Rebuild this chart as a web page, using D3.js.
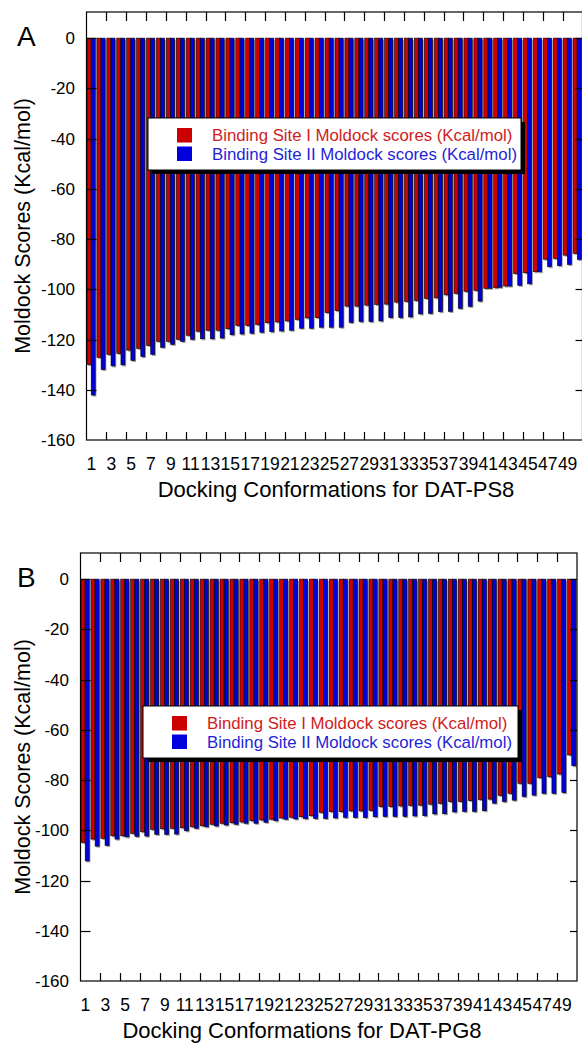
<!DOCTYPE html>
<html>
<head>
<meta charset="utf-8">
<script src="https://cdn.jsdelivr.net/npm/d3@7"></script>
<style>
  html, body { margin: 0; padding: 0; background: #fff; }
  svg { display: block; font-family: "Liberation Sans", Arial, sans-serif; }
</style>
</head>
<body>
<svg id="chart" width="582" height="1044"></svg>
<script>
// ---- data ----
const categories = [1,2,3,4,5,6,7,8,9,10,11,12,13,14,15,16,17,18,19,20,21,22,23,24,25,
  26,27,28,29,30,31,32,33,34,35,36,37,38,39,40,41,42,43,44,45,46,47,48,49,50];
const xTickLabels = ["1","3","5","7","9","11","13","15","17","19","21","23","25","27","29",
  "31","33","35","37","39","41","43","45","47","49"];
const yTickValues = [0, -20, -40, -60, -80, -100, -120, -140, -160];
const seriesNames = ["Binding Site I Moldock scores (Kcal/mol)", "Binding Site II Moldock scores (Kcal/mol)"];

// Panel A: DAT-PS8
const ps8SiteI = [-129.9, -127.1, -125.9, -125.5, -124.2, -123.5, -122.3, -120.7, -120.7, -119.9,
  -118.3, -116.7, -116.3, -116.3, -115.7, -114.4, -114.4, -114.0, -113.3, -113.0,
  -112.6, -112.0, -111.4, -111.3, -109.3, -108.5, -106.7, -106.7, -106.3, -106.0,
  -105.9, -105.1, -104.8, -104.5, -103.6, -103.4, -102.2, -101.6, -100.8, -100.4,
  -99.6, -99.4, -98.7, -93.7, -93.4, -93.0, -88.0, -87.7, -86.4, -85.7];
const ps8SiteII = [-142.1, -131.9, -130.5, -130.1, -128.3, -126.8, -125.9, -123.1, -121.9, -120.7,
  -119.9, -119.7, -119.7, -119.4, -118.1, -117.8, -117.5, -117.1, -116.9, -116.6,
  -116.3, -115.5, -115.5, -115.1, -115.1, -115.1, -113.2, -112.9, -112.9, -112.6,
  -111.3, -111.3, -111.0, -109.8, -109.6, -108.9, -108.8, -107.6, -106.8, -104.7,
  -99.6, -99.2, -98.7, -98.4, -97.8, -93.0, -91.0, -90.6, -90.1, -88.1];

// Panel B: DAT-PG8
const pg8SiteI = [-104.8, -103.5, -103.2, -102.2, -102.2, -101.2, -100.6, -99.6, -99.4, -99.2,
  -99.0, -98.6, -98.2, -97.6, -97.2, -97.0, -96.7, -96.2, -95.9, -95.6,
  -95.1, -94.8, -94.6, -94.2, -92.9, -92.6, -92.6, -92.3, -92.3, -92.1,
  -90.6, -90.6, -90.3, -90.1, -90.0, -89.6, -89.3, -88.6, -88.5, -88.2,
  -87.8, -87.6, -86.1, -85.3, -81.3, -81.3, -79.1, -78.7, -77.6, -70.0];
const pg8SiteII = [-112.2, -106.3, -106.0, -103.5, -102.6, -102.4, -102.3, -101.6, -101.6, -101.5,
  -100.2, -99.2, -98.6, -98.3, -97.9, -97.6, -97.2, -97.2, -96.8, -96.2,
  -95.6, -95.5, -95.4, -95.3, -95.3, -95.1, -94.9, -94.9, -94.9, -94.6,
  -94.5, -94.5, -94.5, -94.3, -94.2, -93.5, -93.4, -92.7, -92.5, -92.5,
  -92.2, -89.2, -88.6, -88.0, -86.6, -86.0, -85.3, -85.3, -85.0, -74.3];

// ---- style ----
const RED = "#cc0000", BLUE = "#0000dd", SHADOW = "#9a9a9a";
const RED_TXT = "#d01c1c", BLUE_TXT = "#1f1fd6";

const svg = d3.select("#chart");

function drawPanel(cfg) {
  const g = svg.append("g");
  const x = d3.scaleBand().domain(categories).range([cfg.left, cfg.left + cfg.width]).padding(0);
  const y = d3.scaleLinear().domain([-160, 10.4]).range([cfg.top + cfg.height, cfg.top]);
  const bw = x.bandwidth();
  const y0 = y(0);

  // bars (shadow first, then bar)
  const series = [
    {vals: cfg.siteI, color: RED, off: 0.5},
    {vals: cfg.siteII, color: BLUE, off: 4.7}
  ];
  const barW = 4.0;
  series.forEach(s => {
    g.append("g").selectAll("rect").data(categories).join("rect")
      .attr("x", (c) => x(c) + s.off + 1.2)
      .attr("y", y0 + 1.5)
      .attr("width", barW)
      .attr("height", (c, i) => y(s.vals[i]) - y0)
      .attr("fill", SHADOW);
  });
  series.forEach(s => {
    g.append("g").selectAll("rect").data(categories).join("rect")
      .attr("x", (c) => x(c) + s.off)
      .attr("y", y0)
      .attr("width", barW)
      .attr("height", (c, i) => y(s.vals[i]) - y0)
      .attr("fill", s.color)
      .attr("stroke", "#000")
      .attr("stroke-width", 0.6);
  });

  // frame
  const L = cfg.left, R = cfg.left + cfg.width, T = cfg.top, B = cfg.top + cfg.height;
  g.append("rect").attr("x", L).attr("y", T).attr("width", cfg.width).attr("height", cfg.height)
    .attr("fill", "none").attr("stroke", "#000").attr("stroke-width", 1.2);

  // y ticks (inward both sides) + labels
  yTickValues.forEach(v => {
    const yy = Math.round(y(v)) + 0.5;
    if (v !== -160) {
      g.append("line").attr("x1", L).attr("x2", L + 10).attr("y1", yy).attr("y2", yy)
        .attr("stroke", "#000").attr("stroke-width", 1.2);
      g.append("line").attr("x1", R - 7).attr("x2", R).attr("y1", yy).attr("y2", yy)
        .attr("stroke", "#000").attr("stroke-width", 1.2);
    }
    g.append("text").attr("x", cfg.yLabelRight).attr("y", y(v)).attr("dy", "0.36em")
      .attr("text-anchor", "end").attr("font-size", 17).attr("fill", "#000").text(v);
  });

  // x ticks at band boundaries every two categories, labels at odd categories
  const oddCats = xTickLabels.map(Number);
  oddCats.filter(c => c > 1).forEach(c => {
    const xx = Math.round(x(c)) + 0.5;
    g.append("line").attr("x1", xx).attr("x2", xx).attr("y1", T).attr("y2", T + 9)
      .attr("stroke", "#000").attr("stroke-width", 1.2);
    g.append("line").attr("x1", xx).attr("x2", xx).attr("y1", B - 8).attr("y2", B)
      .attr("stroke", "#000").attr("stroke-width", 1.2);
  });
  xTickLabels.forEach(lbl => {
    const c = Number(lbl);
    g.append("text").attr("x", x(c) + bw / 2).attr("y", B + 30)
      .attr("text-anchor", "middle").attr("font-size", 17.5).attr("fill", "#000").text(lbl);
  });

  // axis titles
  g.append("text").attr("x", cfg.xTitleX).attr("y", B + 57)
    .attr("text-anchor", "middle").attr("font-size", 22).attr("fill", "#000").text(cfg.xTitle);
  g.append("text")
    .attr("transform", `translate(${cfg.yTitleX},${(T + B) / 2}) rotate(-90)`)
    .attr("text-anchor", "middle").attr("font-size", 21.5).attr("fill", "#000")
    .text("Moldock Scores (Kcal/mol)");

  // panel letter
  g.append("text").attr("x", cfg.letterX).attr("y", cfg.letterY)
    .attr("font-size", 28).attr("fill", "#000").text(cfg.letter);

  // legend
  const lg = cfg.legend;
  g.append("rect").attr("x", lg.x + 4).attr("y", lg.y + 4).attr("width", lg.w).attr("height", lg.h)
    .attr("fill", "#000");
  g.append("rect").attr("x", lg.x).attr("y", lg.y).attr("width", lg.w).attr("height", lg.h)
    .attr("fill", "#fff").attr("stroke", "#000").attr("stroke-width", 1);
  const lcolors = [RED, BLUE], tcolors = [RED_TXT, BLUE_TXT];
  seriesNames.forEach((name, i) => {
    g.append("rect").attr("x", lg.x + 29).attr("y", lg.y + 10 + i * 18.5)
      .attr("width", 15).attr("height", 14.5).attr("fill", lcolors[i]);
    g.append("text").attr("x", lg.x + 64).attr("y", lg.y + 23 + i * 18.5)
      .attr("font-size", 16.8).attr("fill", tcolors[i]).text(name);
  });
}

drawPanel({
  left: 86.5, top: 12, width: 496, height: 428,
  siteI: ps8SiteI, siteII: ps8SiteII,
  yLabelRight: 75, xTitle: "Docking Conformations for DAT-PS8", xTitleX: 336,
  yTitleX: 30, letter: "A", letterX: 17, letterY: 46,
  legend: {x: 148, y: 118, w: 373, h: 52}
});

drawPanel({
  left: 80.5, top: 553, width: 496.5, height: 428,
  siteI: pg8SiteI, siteII: pg8SiteII,
  yLabelRight: 69, xTitle: "Docking Conformations for DAT-PG8", xTitleX: 302,
  yTitleX: 30, letter: "B", letterX: 17, letterY: 587,
  legend: {x: 143, y: 706, w: 375, h: 52}
});
</script>
</body>
</html>
